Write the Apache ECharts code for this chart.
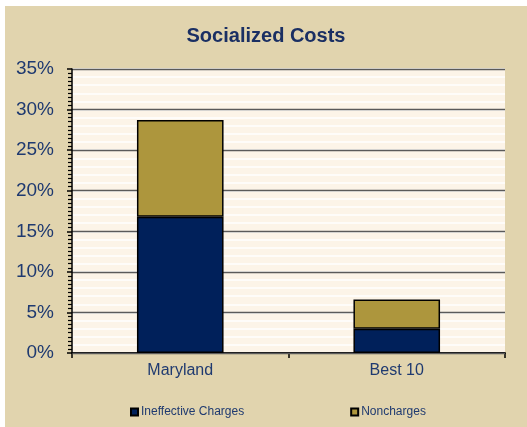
<!DOCTYPE html>
<html>
<head>
<meta charset="utf-8">
<script src="https://cdn.jsdelivr.net/npm/echarts@6/dist/echarts.min.js"></script>
<style>
html,body{margin:0;padding:0;background:#ffffff;width:527px;height:427px;overflow:hidden;}
#c{position:absolute;left:5px;top:6px;width:522px;height:421px;background:#E1D4AE;}
</style>
</head>
<body>
<div id="c"></div>
<script>
var categories = ['Maryland', 'Best 10'];
var ineffectiveCharges = [16.8, 3.0];
var noncharges = [11.9, 3.6];
var seriesNames = ['Ineffective Charges', 'Noncharges'];
var chartTitle = 'Socialized Costs';

var chart = echarts.init(document.getElementById('c'), null, {renderer: 'canvas'});
var labelColor = '#1F3A70';
var font = 'Arial, "Liberation Sans", sans-serif';
chart.setOption({
  animation: false,
  backgroundColor: '#E1D4AE',
  title: {
    text: chartTitle, left: 'center', top: 20, padding: 0,
    textStyle: {fontFamily: font, fontSize: 20, fontWeight: 'bold', color: '#1A2F63'}
  },
  legend: {
    data: seriesNames, left: 120, top: 395, itemGap: 106,
    itemWidth: 7, itemHeight: 7, icon: 'rect',
    textStyle: {fontFamily: font, fontSize: 12, color: labelColor, padding: [0,0,0,-2]}
  },
  grid: {left: 67, right: 22, top: 63, bottom: 74, show: true, backgroundColor: '#FCF4E8', borderWidth: 0, outerBoundsMode: 'none', containLabel: false},
  xAxis: [{
    type: 'category', data: categories,
    axisLine: {lineStyle: {color: '#000', width: 1.5}},
    axisTick: {show: true, length: 5, lineStyle: {color: '#000', width: 1.5}},
    axisLabel: {fontFamily: font, fontSize: 16, color: labelColor, margin: 10}
  }, {
    type: 'category', data: categories, position: 'top',
    axisLine: {show: true, lineStyle: {color: '#000', width: 1.5}},
    axisTick: {show: false}, axisLabel: {show: false}
  }],
  yAxis: [{
    type: 'value', min: 0, max: 35, interval: 1, z: 0, position: 'left',
    axisLine: {show: false}, axisTick: {show: false}, axisLabel: {show: false},
    splitLine: {show: true, lineStyle: {color: '#FFFFFF', width: 1.5}}
  }, {
    type: 'value', min: 0, max: 35, interval: 5, z: 1, position: 'left',
    axisLine: {show: true, lineStyle: {color: '#000', width: 1.5}},
    axisTick: {show: true, length: 5, lineStyle: {color: '#000', width: 1.5}},
    minorTick: {show: true, splitNumber: 10, length: 4, lineStyle: {color: '#000', width: 1.2}},
    axisLabel: {fontFamily: font, fontSize: 19, color: labelColor, margin: 18, formatter: '{value}%'},
    splitLine: {show: true, lineStyle: {color: '#5A5A5A', width: 1.4}}
  }],
  series: [{
    name: seriesNames[0], type: 'bar', stack: 'a', data: ineffectiveCharges,
    yAxisIndex: 1, barWidth: '40%',
    itemStyle: {color: '#00205A', borderColor: '#000', borderWidth: 1.5}
  }, {
    name: seriesNames[1], type: 'bar', stack: 'a', data: noncharges,
    yAxisIndex: 1, barWidth: '40%',
    itemStyle: {color: '#AD963D', borderColor: '#000', borderWidth: 1.5}
  }]
});
</script>
</body>
</html>
